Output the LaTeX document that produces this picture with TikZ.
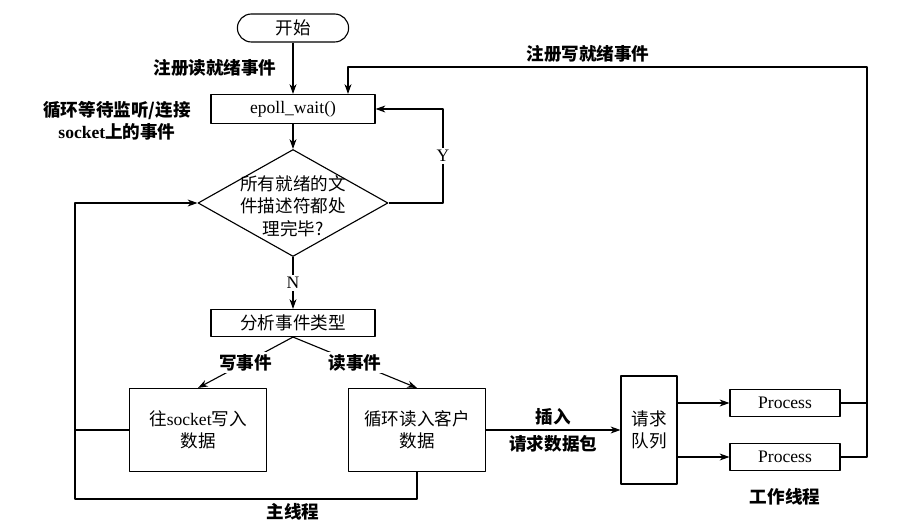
\documentclass[tikz,border=0pt]{standalone}
\usepackage{fontspec}
\setmainfont{Liberation Serif}
\newfontfamily\cjk{Noto Sans CJK SC}
\usepackage{tikz}
\usetikzlibrary{arrows.meta,calc,shapes.geometric}
\newcommand\figsize{\fontsize{12.5}{16}\selectfont}

\tikzset{
  flowbox/.style={draw, line width=0.8pt, align=center, inner sep=2pt},
  conn/.style={line width=0.8pt},
  arr/.style={conn, -{Stealth[length=7pt,width=5pt]}},
  lbl/.style={font=\figsize\cjk\bfseries, align=center},
  gap/.style={fill=white, inner sep=1.5pt}
}

\begin{document}
\begin{tikzpicture}[>=Stealth, line join=round, font=\figsize]
  \path[use as bounding box] (0,0) rectangle (22.425,13.1); % keep reference proportions

  % main thread flow
  \node[flowbox, rounded corners=0.35cm, minimum width=2.78cm, minimum height=0.7cm] (start) at (7.325,12.40) {\cjk 开始};
  \node[flowbox, minimum width=4.1cm, minimum height=0.725cm] (ep) at (7.325,10.375) {epoll\_wait()};
  \node[draw, diamond, line width=0.8pt, minimum width=4.75cm, minimum height=2.675cm, inner sep=0pt] (dec) at (7.325,8.025) {};
  \node[align=center, font=\figsize\cjk] (dectxt) at (7.325,7.95) {所有就绪的文\\件描述符都处\\理完毕?};
  \node[flowbox, minimum width=4.1cm, minimum height=0.675cm] (ana) at (7.325,5.025) {\cjk 分析事件类型};
  \node[flowbox, minimum width=3.425cm, minimum height=2.075cm] (wr) at (4.95,2.35) {{\cjk 往}socket{\cjk 写入}\\{\cjk 数据}};
  \node[flowbox, minimum width=3.425cm, minimum height=2.075cm] (rd) at (10.425,2.35) {{\cjk 循环读入客户}\\{\cjk 数据}};

  % worker side
  \node[flowbox, minimum width=1.4cm, minimum height=2.7cm] (queue) at (16.225,2.35) {{\cjk 请求}\\{\cjk 队列}};
  \node[flowbox, minimum width=2.75cm, minimum height=0.675cm] (procA) at (19.625,3.025) {Process};
  \node[flowbox, minimum width=2.75cm, minimum height=0.675cm] (procB) at (19.625,1.675) {Process};

  % free labels
  \node[lbl] (regread) at (5.375,11.4) {注册读就绪事件};
  \node[lbl] (waitlbl) at (2.925,10.075) {循环等待监听/连接\\{\rmfamily\bfseries socket}上的事件};
  \node[lbl] (regwrite) at (14.7,11.75) {注册写就绪事件};
  \node[lbl] (mainlbl) at (7.325,0.3) {主线程};
  \node[lbl] (worklbl) at (19.625,0.675) {工作线程};

  \coordinate (mainleft) at (1.875,0.625);
  \coordinate (worktop) at (21.675,11.425);
  \coordinate (yturn) at (11.075,10.375);

  % connectors
  \draw[arr] (start) -- (ep);
  \draw[arr] (ep) -- (dec);
  \draw[arr] (dec.east) -| node[pos=0.75, gap]{Y} (yturn) -- (ep.east);
  \draw[arr] (dec) -- node[gap]{N} (ana);
  \draw[arr] (ana.south) -- node[lbl, gap]{写事件} (wr.north);
  \draw[arr] (ana.south) -- node[lbl, gap]{读事件} (rd.north);
  \draw[arr] (rd) -- node[lbl, above]{插入} node[lbl, below]{请求数据包} (queue);
  \draw[arr] (queue.east |- procA) -- (procA);
  \draw[arr] (queue.east |- procB) -- (procB);
  \draw[conn] (procA.east) -- (procA.east -| worktop);
  \draw[arr] (procB.east) -| (worktop) -| ($(ep.north)+(1.375,0)$);
  \draw[conn] (wr.west) -- (wr.west -| mainleft);
  \draw[arr] (rd.south) |- (mainleft) |- (dec.west);

\end{tikzpicture}
\end{document}
